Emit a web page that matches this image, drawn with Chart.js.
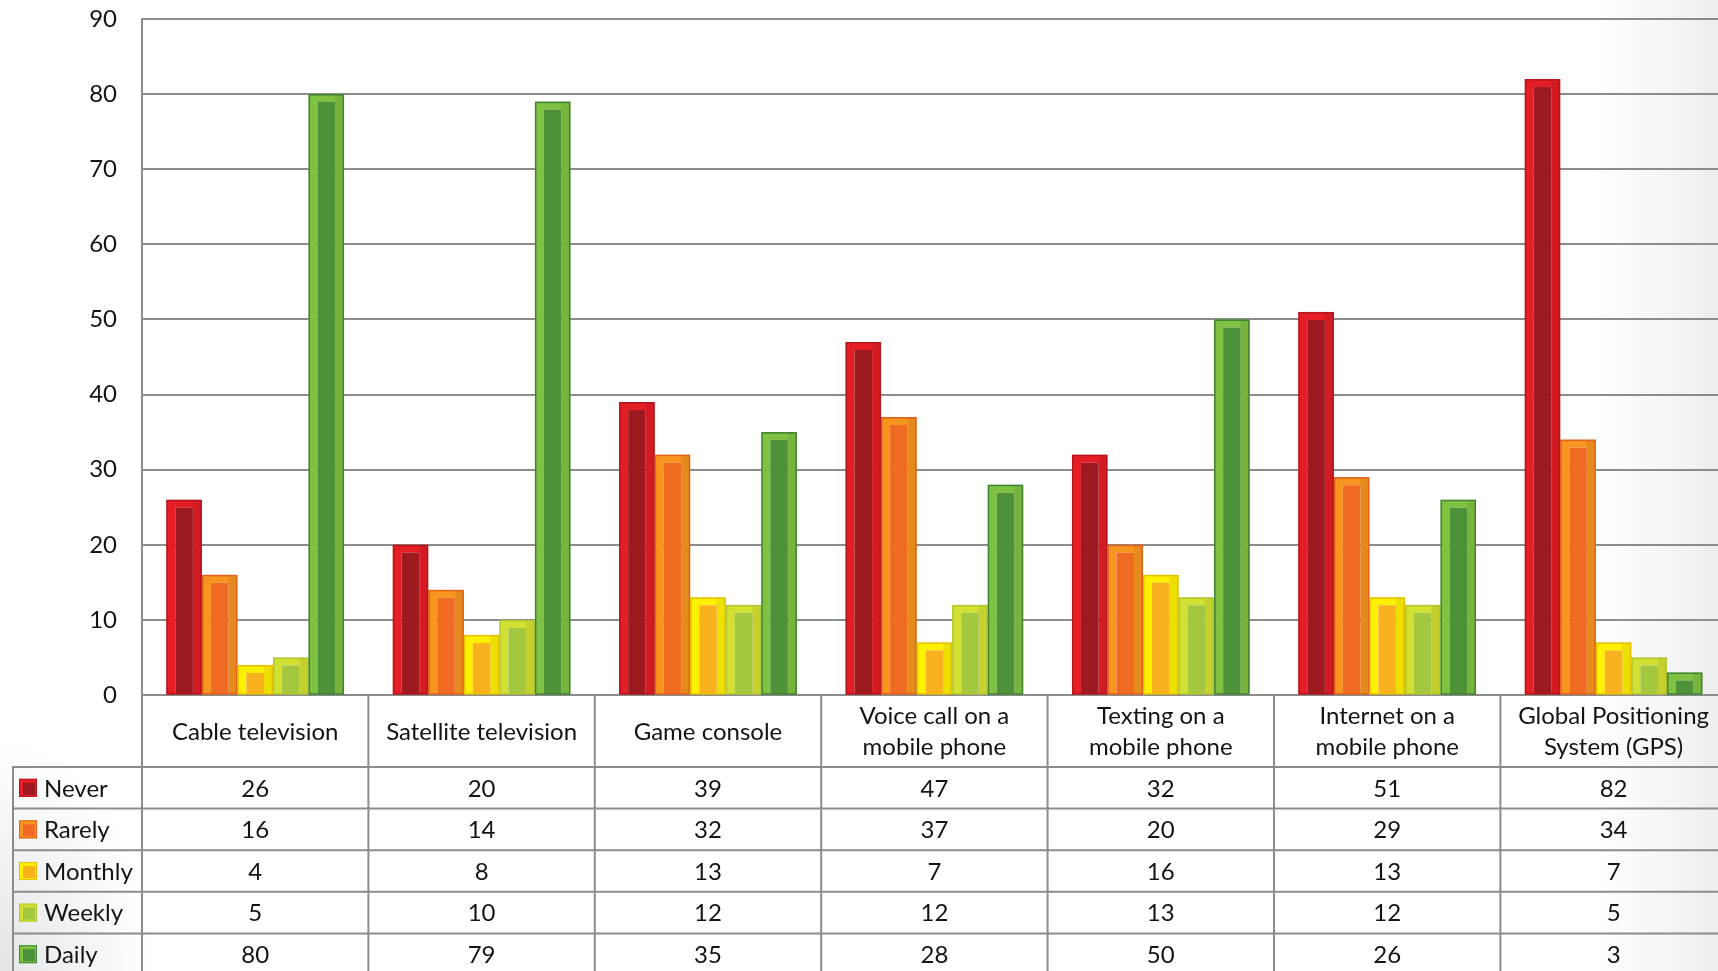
<!DOCTYPE html>
<html>
<head>
<meta charset="utf-8">
<script src="https://cdn.jsdelivr.net/npm/chart.js@4.4.1/dist/chart.umd.min.js"></script>
<style>
  html, body {
    margin: 0; padding: 0; width: 1718px; height: 971px; overflow: hidden;
    background:
      radial-gradient(ellipse 150px 230px at 0% 100%, #e3e5e7 0%, rgba(255,255,255,0) 100%),
      linear-gradient(90deg, #ffffff 0%, #ffffff 93%, #eceef0 100%);
  }
  #wrap { position: absolute; left: 0; top: 0; width: 1730px; height: 975px; }
  canvas { display: block; }
</style>
</head>
<body>
<div id="wrap"><canvas id="chart" width="1730" height="975"></canvas></div>
<script>
// Categories (multi-line labels as arrays)
const categories = [
  'Cable television',
  'Satellite television',
  'Game console',
  ['Voice call on a', 'mobile phone'],
  ['Texting on a', 'mobile phone'],
  ['Internet on a', 'mobile phone'],
  ['Global Positioning', 'System (GPS)']
];

// Series values
const seriesNames = ['Never', 'Rarely', 'Monthly', 'Weekly', 'Daily'];
const never   = [26, 20, 39, 47, 32, 51, 82];
const rarely  = [16, 14, 32, 37, 20, 29, 34];
const monthly = [4, 8, 13, 7, 16, 13, 7];
const weekly  = [5, 10, 12, 12, 13, 12, 5];
const daily   = [80, 79, 35, 28, 50, 26, 3];

// Y axis ticks
const yMin = 0, yMax = 90, yStep = 10;

// Bar palette: edge band, inner fill, outline
const palette = [
  { band: '#e51d25', inner: '#9c1a20', line: '#b3161d' },
  { band: '#f7951f', inner: '#f06b22', line: '#e0601c' },
  { band: '#fff000', inner: '#f9b21e', line: '#e3c000' },
  { band: '#d2e032', inner: '#a3c83f', line: '#b4c634' },
  { band: '#7fc242', inner: '#4f9139', line: '#3f8434' }
];

const FONT = '"Lato", "Open Sans", sans-serif';
const FONT_SIZE = 24;
const TEXT = '#141414';
const GRID = '#8c8c8c';
const HEADER_H = 72;
const ROW_H = 41.6;
const LEGEND_LEFT = 13;

const seriesData = [never, rarely, monthly, weekly, daily];

// Bevel look: darker right edge and thin outline on every bar
const barBevel = {
  id: 'barBevel',
  afterDatasetsDraw(chart) {
    const ctx = chart.ctx;
    ctx.save();
    chart.data.datasets.forEach((ds, di) => {
      const meta = chart.getDatasetMeta(di);
      meta.data.forEach(bar => {
        const { x, y, base, width } = bar.getProps(['x', 'y', 'base', 'width'], true);
        const left = x - width / 2, h = base - y;
        ctx.fillStyle = 'rgba(0,0,0,0.07)';
        ctx.fillRect(left + width - 9, y, 9, h);
        ctx.strokeStyle = palette[di].line;
        ctx.lineWidth = 1.5;
        ctx.strokeRect(left + 0.75, y + 0.75, width - 1.5, h - 0.75);
      });
    });
    ctx.restore();
  }
};

// Data table under the plot: grid, legend keys and values
const dataTable = {
  id: 'dataTable',
  afterDraw(chart) {
    const { ctx, chartArea } = chart;
    const xs = chart.scales.x;
    const n = categories.length;
    const colW = (chartArea.right - chartArea.left) / n;
    const top = chartArea.bottom;
    const rowsTop = top + HEADER_H;
    const bottom = rowsTop + ROW_H * seriesNames.length;

    ctx.save();
    ctx.strokeStyle = GRID;
    ctx.lineWidth = 2;
    ctx.beginPath();
    // column dividers
    for (let i = 0; i <= n; i++) {
      const bx = i < n ? xs.getPixelForValue(i) - colW / 2 : chartArea.right;
      ctx.moveTo(bx, top);
      ctx.lineTo(bx, bottom);
    }
    // legend column left edge
    ctx.moveTo(LEGEND_LEFT, rowsTop);
    ctx.lineTo(LEGEND_LEFT, bottom);
    // row lines
    for (let r = 0; r <= seriesNames.length; r++) {
      const ry = rowsTop + r * ROW_H;
      ctx.moveTo(LEGEND_LEFT - 1, ry);
      ctx.lineTo(chartArea.right, ry);
    }
    ctx.stroke();

    ctx.font = FONT_SIZE + 'px ' + FONT;
    ctx.fillStyle = TEXT;
    ctx.textBaseline = 'middle';
    seriesNames.forEach((name, r) => {
      const cy = rowsTop + r * ROW_H + ROW_H / 2;
      // legend key
      const p = palette[r];
      const sx = 19, sz = 18, sy = cy - sz / 2;
      ctx.fillStyle = p.band;
      ctx.fillRect(sx, sy, sz, sz);
      ctx.fillStyle = p.inner;
      ctx.fillRect(sx + 4, sy + 4, sz - 6, sz - 6);
      ctx.strokeStyle = p.line;
      ctx.lineWidth = 1;
      ctx.strokeRect(sx + 0.5, sy + 0.5, sz - 1, sz - 1);
      ctx.fillStyle = TEXT;
      ctx.textAlign = 'left';
      ctx.fillText(name, 44, cy + 1);
      // values
      ctx.textAlign = 'center';
      seriesData[r].forEach((v, i) => {
        ctx.fillText(String(v), xs.getPixelForValue(i), cy + 1);
      });
    });
    ctx.restore();
  }
};

const datasets = seriesNames.map((name, i) => ({
  label: name,
  data: seriesData[i],
  backgroundColor: palette[i].inner,
  borderColor: palette[i].band,
  borderWidth: { left: 9, right: 9, top: 8, bottom: 0 },
  borderSkipped: 'bottom',
  categoryPercentage: 0.785,
  barPercentage: 1.0
}));

new Chart(document.getElementById('chart'), {
  type: 'bar',
  data: { labels: categories, datasets },
  options: {
    responsive: false,
    animation: false,
    layout: { padding: { top: 19, right: 0, bottom: 0, left: 0 } },
    plugins: { legend: { display: false }, tooltip: { enabled: false } },
    scales: {
      x: {
        grid: { display: false, drawTicks: false },
        border: { display: false },
        ticks: {
          color: TEXT,
          font: { family: FONT, size: FONT_SIZE, lineHeight: 1.32 },
          padding: 21,
          maxRotation: 0,
          minRotation: 0,
          autoSkip: false,
          crossAlign: 'center'
        },
        afterFit(scale) { scale.height = HEADER_H + ROW_H * seriesNames.length; }
      },
      y: {
        min: yMin,
        max: yMax,
        grid: {
          color: GRID,
          lineWidth: 2,
          drawTicks: true,
          tickLength: 25,
          tickColor: 'rgba(0,0,0,0)'
        },
        border: { display: true, color: GRID, width: 2 },
        ticks: {
          stepSize: yStep,
          color: TEXT,
          font: { family: FONT, size: FONT_SIZE },
          padding: 0
        },
        afterFit(scale) { scale.width = 142; }
      }
    }
  },
  plugins: [barBevel, dataTable]
});
</script>
</body>
</html>
